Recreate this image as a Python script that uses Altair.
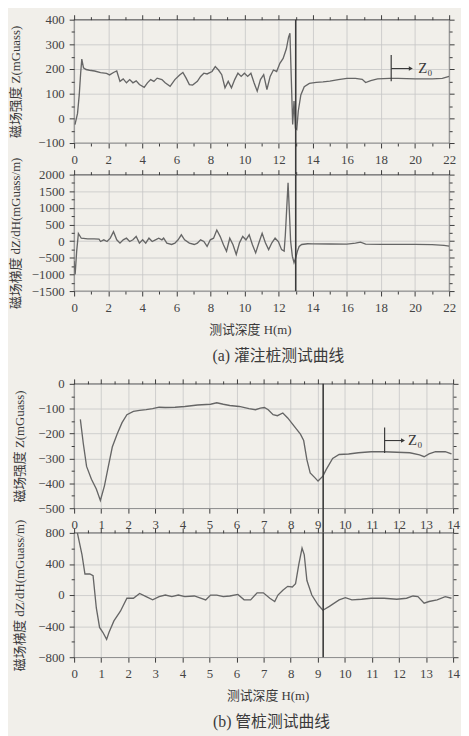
import altair as alt
import pandas as pd

# ---------------- data ----------------
# (a) 灌注桩 — magnetic field Z
A_Z_DEPTH = [0.05, 0.2, 0.3, 0.38, 0.45, 0.55, 0.7, 0.9, 1.2, 1.55, 1.9, 2.08, 2.31, 2.5, 2.69, 2.88,
             3.07, 3.26, 3.45, 3.64, 3.83, 4.11, 4.3, 4.49, 4.68, 4.87, 5.15, 5.34, 5.63, 5.91, 6.19,
             6.38, 6.57, 6.76, 6.95, 7.23, 7.42, 7.61, 7.8, 8.09, 8.28, 8.47, 8.66, 8.85, 9.04, 9.23,
             9.42, 9.61, 9.8, 9.99, 10.18, 10.37, 10.56, 10.74, 10.93, 11.12, 11.31, 11.5, 11.69,
             11.88, 12.07, 12.26, 12.45, 12.58, 12.66, 12.74, 12.82, 12.9, 12.98, 13.06, 13.15, 13.3,
             13.5, 13.8, 14.2, 14.6, 15.0, 15.5, 16.0, 16.5, 16.9, 17.1, 17.4, 17.8, 18.5, 19.0, 20.0,
             21.0, 21.6, 22.0]
A_Z = [-25, 20, 95, 180, 240, 205, 198, 195, 192, 185, 182, 176, 186, 192, 150, 160,
       144, 157, 144, 152, 137, 126, 144, 157, 150, 163, 157, 144, 130, 157, 176,
       186, 163, 137, 135, 150, 170, 183, 180, 190, 210, 196, 177, 124, 150, 124,
       157, 183, 170, 183, 170, 183, 143, 110, 157, 177, 117, 170, 196,
       190, 223, 243, 282, 329, 345, 160, -25, 70, -40, -45, 30, 95,
       128, 142, 146, 148, 151, 157, 162, 162, 158, 145, 153, 160, 162, 162, 160,
       160, 162, 170]

# (a) 灌注桩 — gradient dZ/dH
A_G_DEPTH = [0.0, 0.06, 0.15, 0.25, 0.42, 0.8, 1.17, 1.46, 1.55, 1.74, 1.93, 2.12, 2.31, 2.5, 2.69,
             2.88, 3.07, 3.26, 3.45, 3.64, 3.83, 4.02, 4.2, 4.39, 4.58, 4.77, 4.96, 5.15, 5.25,
             5.44, 5.72, 5.91, 6.1, 6.29, 6.48, 6.76, 7.05, 7.23, 7.42, 7.61, 7.8, 7.99, 8.18,
             8.37, 8.57, 8.76, 8.94, 9.13, 9.32, 9.51, 9.7, 9.89, 10.08, 10.27, 10.46, 10.65,
             10.84, 11.03, 11.22, 11.41, 11.6, 11.79, 11.98, 12.17, 12.32, 12.39, 12.47, 12.55,
             12.62, 12.7, 12.8, 12.9, 13.0, 13.1, 13.2, 13.35, 13.7, 14.0, 15.0, 16.0, 16.5, 16.8,
             17.1, 18.0, 19.0, 20.0, 21.0, 21.7, 22.0]
A_G = [-600, -1000, -300, 230, 88, 70, 70, 60, -10, 40, -10, 90, 285, 40, -60,
       40, 90, -10, 40, 140, -60, 40, -60, 90, -10, 40, 90, 40, 90,
       -60, -100, -60, 40, 190, 40, -60, -100, -60, 40, -10, -160, 40, 90,
       335, 137, -108, -304, 88, -110, -402, -50, 140, 40, 190, -110, -353,
       -50, 235, -50, -255, -50, 90, -10, -255, -300, 186, 970, 1755,
       970, 0, -450, -650, -500, -300, -160, -100, -78, -80, -85, -88, -60, -30,
       -90, -95, -95, -95, -105, -125, -150]

# (b) 管桩 — magnetic field Z
B_Z_DEPTH = [0.23, 0.34, 0.46, 0.64, 0.82, 0.97, 1.12, 1.24, 1.41, 1.59, 1.77, 1.95, 2.19, 2.42,
             2.66, 2.9, 3.14, 3.37, 3.73, 4.09, 4.56, 5.04, 5.27, 5.51, 5.75, 6.1, 6.46, 6.7,
             6.88, 7.03, 7.17, 7.35, 7.51, 7.71, 7.89, 8.12, 8.36, 8.48, 8.6, 8.72, 8.9, 9.01,
             9.19, 9.31, 9.55, 9.79, 10.14, 10.5, 10.97, 11.45, 11.92, 12.4, 12.76, 12.93, 13.11,
             13.35, 13.71, 13.94]
B_Z = [-143, -241, -332, -384, -423, -469, -410, -345, -254, -202, -156, -124, -111, -107,
       -104, -100, -94, -95, -94, -91, -85, -82, -76, -82, -87, -91, -100, -104,
       -98, -95, -104, -124, -128, -117, -137, -169, -202, -228, -306, -358, -378, -391,
       -371, -345, -300, -284, -282, -277, -273, -273, -275, -277, -286, -293, -282,
       -273, -273, -282]

# (b) 管桩 — gradient dZ/dH
B_G_DEPTH = [0.12, 0.29, 0.4, 0.58, 0.7, 0.82, 0.94, 1.06, 1.2, 1.29, 1.47, 1.71, 1.95, 2.19,
             2.42, 2.66, 2.9, 3.14, 3.37, 3.61, 3.85, 4.09, 4.44, 4.86, 5.04, 5.27, 5.51, 5.75,
             6.05, 6.28, 6.52, 6.76, 6.99, 7.23, 7.41, 7.53, 7.71, 7.89, 8.06, 8.18, 8.3, 8.42,
             8.5, 8.6, 8.78, 9.01, 9.19, 9.43, 9.79, 10.02, 10.26, 10.62, 10.97, 11.45, 11.92,
             12.28, 12.52, 12.7, 12.93, 13.11, 13.41, 13.71, 13.94]
B_G = [800, 521, 271, 271, 250, -166, -416, -479, -570, -479, -333, -208, -41, -41,
       21, -20, -62, -20, 0, -20, 0, -20, -12, -62, 0, 0, -20, -12,
       8, -62, -62, 29, 29, -41, -83, 0, 62, 112, 104, 146, 396, 604,
       521, 187, 0, -125, -195, -145, -62, -33, -62, -54, -41, -41, -54,
       -41, -12, -20, -104, -83, -62, -20, -41]

# marker depths and Z0 annotation (data units)
A_MARK = 13.0
B_MARK = 9.2
A_Z0 = {"d": 18.6, "lo": 150, "hi": 257, "arrow_end": 19.75, "v": 202, "text_d": 20.6}
B_Z0 = {"d": 11.47, "lo": -278, "hi": -176, "arrow_end": 12.15, "v": -228, "text_d": 12.6}

# axis texts
Y_Z_TITLE = "磁场强度 Z(mGuass)"
Y_G_TITLE = "磁场梯度 dZ/dH(mGuass/m)"
X_TITLE = "测试深度 H(m)"
CAP_A = "(a) 灌注桩测试曲线"
CAP_B = "(b) 管桩测试曲线"

# ---------------- style ----------------
FONT = "Liberation Serif, Noto Sans CJK SC"
BG = "#f1efea"
INK = "#3a3a3a"
CURVE = "#666666"
GRID = "#c6c6c6"


def cond(major, a, b):
    return {"condition": {"test": f"datum.value % {major} === 0", "value": a}, "value": b}


def frange(lo, hi, step):
    n = int(round((hi - lo) / step))
    return [lo + i * step for i in range(n + 1)]


def panel(depth, vals, xmax, xmajor, xminor, ydom, ymajor, yminor, w, h,
          ytitle, extent, xtitle=None, title_x=None, rule_x=None, rule_bot=0, z0=None):
    df = pd.DataFrame({"d": depth, "v": vals})
    xs = alt.Scale(domain=[0, xmax], nice=False, zero=False)
    ys = alt.Scale(domain=ydom, nice=False, zero=False)
    xv = frange(0, xmax, xminor)
    yv = frange(ydom[0], ydom[1], yminor)

    xaxis_kw = dict(
        orient="bottom", values=xv, format="d",
        labelExpr=f"datum.value % {xmajor} === 0 ? datum.label : ''",
        labelOverlap=False, labelFlush=False, labelPadding=6,
        grid=True, gridColor=GRID, gridWidth=0.8, gridOpacity=cond(xmajor, 1, 0),
        tickSize=cond(xmajor, 5, 3), domain=False,
    )
    if xtitle:
        xaxis_kw.update(title=xtitle, titlePadding=9, titleFontSize=13)
        if title_x is not None:
            xaxis_kw.update(titleX=title_x)
    else:
        xaxis_kw.update(title=None)
    yaxis = alt.Axis(
        orient="left", values=yv, format="d",
        labelExpr=f"datum.value % {ymajor} === 0 ? datum.label : ''",
        labelOverlap=False, labelFlush=False, labelPadding=5,
        grid=True, gridColor=GRID, gridWidth=0.8, gridOpacity=cond(ymajor, 1, 0),
        tickSize=cond(ymajor, 5, 3), domain=False,
        title=ytitle, titlePadding=10, minExtent=extent, maxExtent=extent,
    )
    line = alt.Chart(df).mark_line(color=CURVE, strokeWidth=1.35, clip=True).encode(
        x=alt.X("d:Q", scale=xs, axis=alt.Axis(**xaxis_kw)),
        y=alt.Y("v:Q", scale=ys, axis=yaxis),
    )
    mirror = alt.Chart(df).mark_line(opacity=0).encode(
        x=alt.X("d:Q", scale=xs, axis=alt.Axis(orient="top", values=xv, labels=False, grid=False,
                                               domain=False, tickSize=cond(xmajor, 5, 3), title=None)),
        y=alt.Y("v:Q", scale=ys, axis=alt.Axis(orient="right", values=yv, labels=False, grid=False,
                                               domain=False, tickSize=cond(ymajor, 5, 3), title=None)),
    )
    layers = [line, mirror]
    rule_df = pd.DataFrame({"d": [rule_x]})
    rule = alt.Chart(rule_df).mark_rule(color=INK, strokeWidth=1.6).encode(
        x=alt.X("d:Q", axis=None),
        y=alt.value(0),
        y2=alt.value(h + rule_bot),
    )
    layers.append(rule)
    if z0:
        zdf = pd.DataFrame([z0])
        vt = alt.Chart(zdf).mark_rule(color=INK, strokeWidth=1.2).encode(
            x=alt.X("d:Q", axis=None), y=alt.Y("lo:Q", axis=None), y2="hi:Q")
        ar = alt.Chart(zdf).mark_rule(color=INK, strokeWidth=1.1).encode(
            x=alt.X("d:Q", axis=None), x2="arrow_end:Q", y=alt.Y("v:Q", axis=None))
        head = alt.Chart(zdf).mark_point(shape="triangle-right", filled=True, color=INK,
                                         size=22, opacity=1).encode(
            x=alt.X("arrow_end:Q", axis=None), y=alt.Y("v:Q", axis=None))
        txt = alt.Chart(zdf).mark_text(text="Z₀", font=FONT, fontSize=15, color=INK,
                                       align="center", baseline="middle").encode(
            x=alt.X("text_d:Q", axis=None), y=alt.Y("v:Q", axis=None))
        layers += [vt, ar, head, txt]
    return alt.layer(*layers).resolve_axis(x="independent", y="independent").properties(
        width=w, height=h)


A_GAP = 32
B_GAP = 25

a1 = panel(A_Z_DEPTH, A_Z, 22, 2, 1, [-100, 400], 100, 50, 380, 125, Y_Z_TITLE, 42,
           rule_x=A_MARK, rule_bot=A_GAP, z0=A_Z0)
a2 = panel(A_G_DEPTH, A_G, 22, 2, 1, [-1500, 2000], 500, 250, 380, 118, Y_G_TITLE, 42,
           xtitle=X_TITLE, title_x=178, rule_x=A_MARK).properties(
    title=alt.TitleParams(CAP_A, orient="bottom", anchor="middle", dx=17, offset=12,
                          fontSize=16, font=FONT, fontWeight="normal", color=INK))
b1 = panel(B_Z_DEPTH, B_Z, 14, 1, 0.5, [-500, 0], 100, 50, 384, 126, Y_Z_TITLE, 38,
           rule_x=B_MARK, rule_bot=B_GAP, z0=B_Z0)
b2 = panel(B_G_DEPTH, B_G, 14, 1, 0.5, [-800, 800], 400, 200, 384, 126, Y_G_TITLE, 38,
           xtitle=X_TITLE, title_x=196, rule_x=B_MARK).properties(
    title=alt.TitleParams(CAP_B, orient="bottom", anchor="middle", dx=8, offset=12,
                          fontSize=16, font=FONT, fontWeight="normal", color=INK))

chart = alt.vconcat(
    alt.vconcat(a1, a2, spacing=A_GAP, bounds="flush"),
    alt.vconcat(b1, b2, spacing=B_GAP, bounds="flush"),
    spacing=12,
).properties(
    padding={"left": 1, "top": 0, "right": 0, "bottom": 0},
    background=BG,
).configure_view(
    stroke=INK, strokeWidth=1.2
).configure_axis(
    labelFont=FONT, labelFontSize=13, labelColor="#444444",
    titleFont=FONT, titleFontSize=13, titleFontWeight="normal", titleColor=INK,
    tickColor=INK, tickWidth=1,
)

chart.save("out.html", embed_options={"renderer": "svg", "actions": False})
